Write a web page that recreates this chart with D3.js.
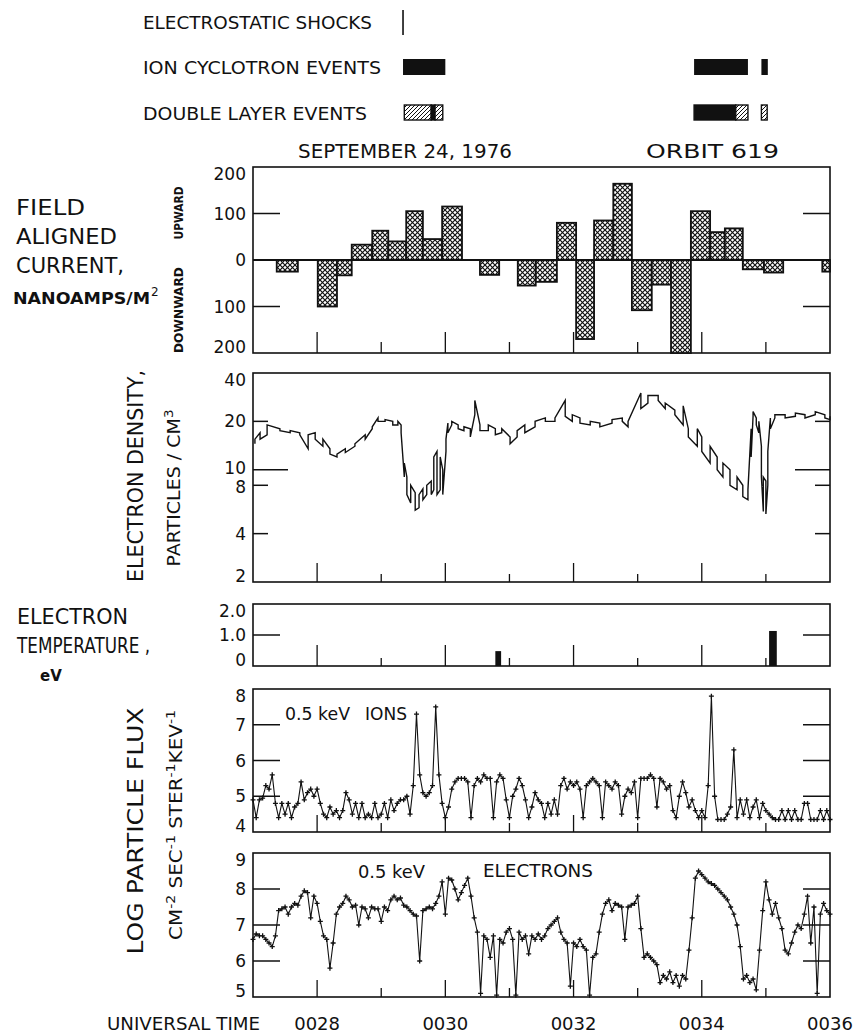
<!DOCTYPE html>
<html>
<head>
<meta charset="utf-8">
<script src="https://cdn.jsdelivr.net/npm/d3@7"></script>
<style>
  body { margin: 0; background: #fff; }
  text { font-family: "DejaVu Sans", sans-serif; fill: #111; }
</style>
</head>
<body>
<script>
////////////////////////////////////////////////////////////////
// Data (time in minutes after 0000 UT)

const minuteTicks = [28, 29, 30, 31, 32, 33, 34, 35]
const timeLabelAt = [28, 30, 32, 34, 36]
const timeLabels = ["0028", "0030", "0032", "0034", "0036"]

// event bars on top
const shockTimes = [29.34]
const iceStart = [29.34, 33.88, 34.93]
const iceEnd = [30.00, 34.72, 35.03]
const dlStart = [29.36, 29.78, 29.84, 33.88, 34.53, 34.93]
const dlEnd = [29.78, 29.84, 29.96, 34.53, 34.72, 35.02]
const dlSolid = [false, true, false, true, false, false]

// field aligned current, bins between edges (nA/m^2, + upward)
const facEdges = [27.37, 27.70, 28.01, 28.31, 28.54, 28.86, 29.11, 29.39, 29.65, 29.95,
  30.26, 30.54, 30.84, 31.13, 31.41, 31.74, 32.04, 32.32, 32.62, 32.91,
  33.22, 33.52, 33.83, 34.13, 34.36, 34.64, 34.97, 35.27, 35.88, 36.00]
const facValues = [-25, 0, -100, -33, 33, 63, 40, 105, 45, 115,
  0, -32, 0, -55, -47, 80, -170, 85, 164, -108,
  -53, -200, 105, 60, 68, -20, -27, 0, -25]
const facTicks = [200, 100, 0, -100, -200]

// electron density samples: time, low, high (per cm^3)
const densT = [27.03, 27.11, 27.22, 27.42, 27.58, 27.73, 27.86, 27.97, 28.09, 28.20,
  28.31, 28.44, 28.59, 28.75, 28.86, 28.95, 29.06, 29.18, 29.26, 29.31,
  29.36, 29.40, 29.46, 29.53, 29.59, 29.65, 29.71, 29.78, 29.82, 29.87,
  29.92, 29.96, 30.01, 30.04, 30.10, 30.20, 30.29, 30.39, 30.46, 30.54,
  30.67, 30.78, 30.88, 31.01, 31.12, 31.24, 31.40, 31.56, 31.71, 31.87,
  31.98, 32.10, 32.26, 32.41, 32.60, 32.76, 32.85, 33.05, 33.16, 33.32,
  33.43, 33.58, 33.71, 33.79, 33.93, 34.00, 34.13, 34.24, 34.33, 34.44,
  34.55, 34.64, 34.72, 34.77, 34.80, 34.85, 34.89, 34.93, 34.96, 35.00,
  35.03, 35.07, 35.14, 35.30, 35.46, 35.61, 35.77, 35.92, 36.00]
const densLo = [14.5, 15.5, 16.5, 17.5, 17, 16.5, 13.5, 15.5, 14, 12.5,
  12, 12.8, 14, 15.5, 18, 20, 20, 19, 19, 17,
  9, 7, 6.2, 5.6, 5.8, 6.5, 7, 7, 7.5, 7,
  7.5, 7, 13, 17, 19, 18, 17.5, 16, 22, 17.5,
  17.5, 16.5, 17, 14.5, 16, 17, 18.5, 20, 20, 21.5,
  20, 19.5, 19, 18.5, 19.5, 20, 18.5, 24, 26, 27,
  24, 22, 19, 16, 14, 13, 11, 10, 9, 8,
  7.5, 6.8, 6.5, 12, 21.5, 19, 17, 9, 5.5, 5.3,
  8, 18, 21, 21, 21.5, 21, 22, 21, 20.5]
const densHi = [15.5, 17, 19, 18, 17.5, 17, 16.5, 17, 15.5, 13.5,
  12.5, 13.5, 14.5, 16.5, 18.5, 21, 20.5, 20, 20, 19,
  11, 9, 8, 7.2, 7, 7.6, 8, 8.5, 12, 13,
  12, 10, 15.5, 19.5, 20, 19, 18.5, 18, 27, 19,
  19, 18, 18, 16, 17.5, 19, 20, 21, 21, 27,
  22, 21, 20, 19.5, 20.5, 21, 20, 30, 29, 29,
  26, 23.5, 25, 18, 18, 16, 14, 12, 11, 10,
  9, 8, 7.5, 18, 23, 21, 20, 14, 9, 8.5,
  13, 21, 22, 22, 22.5, 22, 23, 22, 21.5]
const densTicks = [40, 20, 10, 8, 4, 2]

// electron temperature bars (eV)
const tempStart = [30.78, 35.05]
const tempEnd = [30.87, 35.17]
const tempValue = [0.48, 1.13]
const tempTicks = [2, 1, 0]
const tempTickLabels = ["2.0", "1.0", "0"]

// log particle flux, one sample every 0.05 min from 0027
const fluxStart = 27.0
const fluxStep = 0.05
const ionFlux = [
  4.9, 4.4, 4.9, 4.95, 5.3, 5.2, 5.6, 4.8, 4.4, 4.8, 4.5, 4.8, 4.4, 4.7, 4.8, 5.4, 4.9, 5.1, 5.2, 5.0,
  5.2, 4.8, 4.5, 4.4, 4.7, 4.5, 4.6, 4.4, 4.6, 5.1, 4.9, 4.5, 4.8, 4.4, 4.8, 4.4, 4.5, 4.4, 4.8, 4.4,
  4.5, 4.8, 4.4, 4.9, 4.6, 4.8, 4.9, 4.9, 5.0, 4.5, 5.3, 7.3, 5.6, 5.1, 5.0, 5.1, 5.3, 7.5, 5.6, 4.8,
  4.4, 4.7, 5.2, 5.4, 5.5, 5.5, 5.5, 5.4, 4.4, 5.3, 5.5, 5.4, 5.6, 5.5, 5.5, 4.4, 5.4, 5.6, 5.5, 4.9,
  4.4, 5.0, 5.2, 5.5, 5.3, 4.9, 4.4, 4.7, 5.1, 4.9, 4.8, 4.4, 4.8, 4.5, 4.9, 4.5, 5.3, 5.5, 5.2, 5.4,
  5.3, 5.4, 5.2, 4.4, 5.3, 5.4, 5.5, 5.4, 5.3, 4.4, 5.4, 5.3, 5.2, 5.4, 5.3, 4.5, 5.0, 5.2, 5.1, 5.4,
  4.4, 5.5, 5.5, 5.5, 5.6, 5.5, 4.7, 5.5, 5.4, 5.2, 5.3, 4.6, 4.4, 5.0, 5.4, 5.1, 4.7, 4.9, 4.6, 4.4,
  4.6, 4.4, 5.3, 7.8, 5.0, 4.35, 4.35, 4.35, 4.5, 4.7, 6.3, 4.4, 4.9, 4.5, 4.9, 4.4, 4.7, 4.9, 4.4, 4.8,
  4.6, 4.5, 4.4, 4.35, 4.35, 4.6, 4.35, 4.6, 4.35, 4.6, 4.35, 4.35, 4.8, 4.8, 4.35, 4.35, 4.35, 4.6, 4.35, 4.6,
  4.35]
const electronFlux = [
  6.6, 6.75, 6.7, 6.7, 6.6, 6.5, 6.4, 6.7, 7.4, 7.45, 7.5, 7.3, 7.5, 7.6, 7.55, 7.8, 7.95, 7.9, 7.2, 7.8,
  7.6, 7.1, 6.7, 6.6, 5.8, 6.5, 7.3, 7.5, 7.6, 7.8, 7.7, 7.5, 7.55, 7.0, 7.5, 7.45, 7.2, 7.5, 7.45, 7.45,
  7.1, 7.5, 7.4, 7.7, 7.8, 7.7, 7.75, 7.55, 7.5, 7.4, 7.3, 7.25, 6.0, 7.4, 7.45, 7.5, 7.45, 7.6, 7.8, 8.2,
  7.3, 8.3, 8.25, 8.0, 7.7, 7.9, 8.1, 8.3, 7.8, 7.2, 6.8, 5.1, 6.7, 6.6, 6.1, 6.7, 5.05, 6.6, 6.5, 6.8,
  6.9, 6.6, 5.05, 6.8, 6.6, 6.7, 6.2, 6.7, 6.6, 6.75, 6.6, 6.7, 6.9, 7.0, 7.1, 7.2, 6.8, 6.6, 6.5, 5.3,
  6.5, 6.4, 6.6, 6.4, 6.3, 5.05, 6.1, 6.2, 6.8, 7.3, 7.6, 7.7, 7.4, 7.6, 7.55, 7.5, 6.6, 7.5, 7.55, 7.6,
  7.8, 6.9, 6.1, 6.2, 6.1, 6.0, 5.9, 5.4, 5.6, 5.5, 5.7, 5.4, 5.6, 5.3, 5.6, 5.5, 6.3, 7.2, 8.3, 8.5,
  8.4, 8.3, 8.2, 8.15, 8.1, 8.0, 7.9, 7.8, 7.7, 7.5, 7.3, 7.0, 6.4, 5.5, 5.6, 5.4, 5.5, 5.2, 6.3, 7.4,
  8.2, 7.7, 7.3, 7.6, 7.2, 6.9, 6.3, 6.2, 6.5, 6.8, 7.0, 6.9, 7.3, 7.8, 6.5, 7.5, 5.1, 7.3, 7.6, 7.4,
  7.3]
const ionTicks = [8, 7, 6, 5, 4]
const electronTicks = [9, 8, 7, 6, 5]


////////////////////////////////////////////////////////////////
// Setup

const X0 = 253, X1 = 830
const ink = "#111"

let svg = d3.select("body").append("svg")
  .attr("width", 858)
  .attr("height", 1036)

let x = d3.scaleLinear().domain([27, 36]).range([X0, X1])

let yFac = d3.scaleLinear().domain([-200, 200]).range([353, 167])
let yDens = d3.scaleLog().domain([2, 40]).range([582, 373])
let yTemp = d3.scaleLinear().domain([0, 2]).range([666, 604])
let yIon = d3.scaleLinear().domain([4, 8]).range([832, 689])
let yEl = d3.scaleLinear().domain([5, 9]).range([997, 853])

// hatch patterns
let defs = svg.append("defs")
let xh = defs.append("pattern")
  .attr("id", "xhatch")
  .attr("patternUnits", "userSpaceOnUse")
  .attr("width", 5).attr("height", 5)
xh.append("rect").attr("width", 5).attr("height", 5).attr("fill", "#fff")
xh.append("path")
  .attr("d", "M0,0L5,5M5,0L0,5")
  .attr("stroke", ink).attr("stroke-width", 1.2)

let sh = defs.append("pattern")
  .attr("id", "shatch")
  .attr("patternUnits", "userSpaceOnUse")
  .attr("width", 4).attr("height", 4)
sh.append("rect").attr("width", 4).attr("height", 4).attr("fill", "#fff")
sh.append("path")
  .attr("d", "M0,4L4,0M-1,1L1,-1M3,5L5,3")
  .attr("stroke", ink).attr("stroke-width", 1)


////////////////////////////////////////////////////////////////
// Helpers

function label(px, py, str, size, opts) {
  opts = opts || {}
  let t = svg.append("text")
    .attr("x", px)
    .attr("y", py)
    .attr("font-size", size)
    .attr("text-anchor", opts.anchor || "start")
    .text(str)
  if (opts.len) t.attr("textLength", opts.len).attr("lengthAdjust", "spacingAndGlyphs")
  if (opts.weight) t.attr("font-weight", opts.weight)
  return t
}

// rotated (bottom to top) label, baseline at bx, centered on cy
function vlabel(bx, cy, size, len) {
  return svg.append("text")
    .attr("transform", `translate(${bx},${cy}) rotate(-90)`)
    .attr("text-anchor", "middle")
    .attr("font-size", size)
    .attr("textLength", len)
    .attr("lengthAdjust", "spacingAndGlyphs")
}

// frame + inner ticks for one panel
function frame(y, yTickVals, yTickLen, longX, shortX) {
  let [bot, top] = y.range()
  let g = svg.append("g")
    .attr("stroke", ink)
    .attr("fill", "none")

  g.selectAll(".xt").data(minuteTicks).enter().append("line")
    .attr("x1", d => x(d)).attr("x2", d => x(d))
    .attr("y1", bot)
    .attr("y2", d => bot - (d % 2 == 0 ? longX : shortX))
    .attr("stroke-width", 1.3)

  g.selectAll(".yl").data(yTickVals).enter().append("line")
    .attr("x1", X0).attr("x2", d => X0 + yTickLen(d))
    .attr("y1", d => y(d)).attr("y2", d => y(d))
    .attr("stroke-width", 1.5)
  g.selectAll(".yr").data(yTickVals).enter().append("line")
    .attr("x1", X1).attr("x2", d => X1 - yTickLen(d))
    .attr("y1", d => y(d)).attr("y2", d => y(d))
    .attr("stroke-width", 1.5)

  g.append("rect")
    .attr("x", X0).attr("y", top)
    .attr("width", X1 - X0).attr("height", bot - top)
    .attr("stroke-width", 1.6)
}

// tick labels left of a panel
function tickLabels(y, vals, texts, nudge) {
  let [bot, top] = y.range()
  svg.selectAll(null).data(vals).enter().append("text")
    .attr("x", 246)
    .attr("y", (d, i) => Math.max(top + 7, Math.min(bot - 6, y(d))) + (nudge ? nudge[i] : 0))
    .attr("dy", "0.36em")
    .attr("text-anchor", "end")
    .attr("font-size", 17)
    .text((d, i) => texts ? texts[i] : d)
}


////////////////////////////////////////////////////////////////
// Event legend and title

label(143, 29, "ELECTROSTATIC SHOCKS", 17, {len: 229})
label(143, 74, "ION CYCLOTRON EVENTS", 17, {len: 238})
label(143, 120, "DOUBLE LAYER EVENTS", 17, {len: 224})

svg.selectAll(".shock").data(shockTimes).enter().append("line")
  .attr("x1", d => x(d)).attr("x2", d => x(d))
  .attr("y1", 10).attr("y2", 35)
  .attr("stroke", ink).attr("stroke-width", 1.6)

svg.selectAll(".ice").data(iceStart).enter().append("rect")
  .attr("x", d => x(d))
  .attr("width", (d, i) => x(iceEnd[i]) - x(d))
  .attr("y", 59).attr("height", 16)
  .attr("fill", ink)

svg.selectAll(".dl").data(dlStart).enter().append("rect")
  .attr("x", d => x(d))
  .attr("width", (d, i) => x(dlEnd[i]) - x(d))
  .attr("y", 105).attr("height", 15)
  .attr("fill", (d, i) => dlSolid[i] ? ink : "url(#shatch)")
  .attr("stroke", ink).attr("stroke-width", 1.4)

label(298, 158, "SEPTEMBER 24, 1976", 20, {len: 214})
label(646, 158, "ORBIT 619", 20, {len: 133})


////////////////////////////////////////////////////////////////
// Field aligned current

label(16, 215, "FIELD", 21, {len: 69})
label(16, 244, "ALIGNED", 21, {len: 101})
label(16, 273, "CURRENT,", 21, {len: 108})
label(13, 304, "NANOAMPS/M", 15, {len: 137, weight: "bold"})
svg.append("text").attr("x", 151).attr("y", 296).attr("font-size", 12).text("2")

vlabel(183, 213, 12.5, 53).attr("font-weight", "bold").text("UPWARD")
vlabel(183, 310, 12.5, 86).attr("font-weight", "bold").text("DOWNWARD")

frame(yFac, [100, -100], d => 27, 21, 11)

let facBins = facValues
  .map((v, i) => ({v: v, t0: facEdges[i], t1: facEdges[i + 1]}))
  .filter(d => d.v != 0)

svg.selectAll(".fac").data(facBins).enter().append("rect")
  .attr("x", d => x(d.t0))
  .attr("width", d => x(d.t1) - x(d.t0))
  .attr("y", d => yFac(Math.max(0, d.v)))
  .attr("height", d => Math.abs(yFac(d.v) - yFac(0)))
  .attr("fill", "url(#xhatch)")
  .attr("stroke", ink)
  .attr("stroke-width", 1.8)

svg.append("line")
  .attr("x1", X0).attr("x2", X1)
  .attr("y1", yFac(0)).attr("y2", yFac(0))
  .attr("stroke", ink).attr("stroke-width", 2)

tickLabels(yFac, facTicks, facTicks.map(d => Math.abs(d)))


////////////////////////////////////////////////////////////////
// Electron density

vlabel(143, 476, 22, 212).text("ELECTRON DENSITY,")
let pc = vlabel(180, 488, 17, 157)
pc.append("tspan").text("PARTICLES / CM")
pc.append("tspan").attr("dy", -7).attr("font-size", 12).text("3")

frame(yDens, [20, 10, 8, 4], d => d == 10 ? 35 : 15, 19, 8)

// zigzag between low and high of each sample
let densPts = []
densT.forEach((t, i) => {
  if (i % 2 == 0) densPts.push([t, densLo[i]], [t, densHi[i]])
  else densPts.push([t, densHi[i]], [t, densLo[i]])
})
svg.append("path")
  .attr("d", d3.line().x(d => x(d[0])).y(d => yDens(d[1]))(densPts))
  .attr("fill", "none")
  .attr("stroke", ink)
  .attr("stroke-width", 1.4)

tickLabels(yDens, densTicks, null, [0, 0, -2, 2, 0, 0])


////////////////////////////////////////////////////////////////
// Electron temperature

label(17, 624, "ELECTRON", 21, {len: 111})
label(17, 653, "TEMPERATURE ,", 21, {len: 133})
label(40, 681, "eV", 15, {weight: "bold"})

frame(yTemp, [1], d => 27, 21, 8)

svg.selectAll(".temp").data(tempValue).enter().append("rect")
  .attr("x", (d, i) => x(tempStart[i]))
  .attr("width", (d, i) => x(tempEnd[i]) - x(tempStart[i]))
  .attr("y", d => yTemp(d))
  .attr("height", d => yTemp(0) - yTemp(d))
  .attr("fill", ink)

tickLabels(yTemp, tempTicks, tempTickLabels)


////////////////////////////////////////////////////////////////
// Particle flux

vlabel(143, 831, 22, 247).text("LOG  PARTICLE  FLUX")
let un = vlabel(182, 825, 17, 230)
un.append("tspan").text("CM")
un.append("tspan").attr("dy", -7).attr("font-size", 12).text("-2")
un.append("tspan").attr("dy", 7).text(" SEC")
un.append("tspan").attr("dy", -7).attr("font-size", 12).text("-1")
un.append("tspan").attr("dy", 7).text(" STER")
un.append("tspan").attr("dy", -7).attr("font-size", 12).text("-1")
un.append("tspan").attr("dy", 7).text("KEV")
un.append("tspan").attr("dy", -7).attr("font-size", 12).text("-1")

function fluxPanel(y, vals, ticks) {
  let [lo, hi] = y.domain()
  frame(y, [5, 6, 7, 8].filter(v => v > lo && v < hi), d => 27, 17, 9)
  let pts = vals.map((v, i) => [fluxStart + i * fluxStep, v])
  svg.append("path")
    .attr("d", d3.line().x(d => x(d[0])).y(d => y(d[1]))(pts))
    .attr("fill", "none")
    .attr("stroke", ink)
    .attr("stroke-width", 1.1)
  svg.append("path")
    .attr("d", pts.map(d => `M${x(d[0]) - 2.5},${y(d[1])}h5M${x(d[0])},${y(d[1]) - 2.5}v5`).join(""))
    .attr("stroke", ink)
    .attr("stroke-width", 1.3)
  tickLabels(y, ticks)
}

fluxPanel(yIon, ionFlux, ionTicks)
fluxPanel(yEl, electronFlux, electronTicks)

label(285, 720, "0.5 keV", 18, {len: 65})
label(365, 720, "IONS", 18, {len: 42})
label(358, 878, "0.5 keV", 18, {len: 67})
label(483, 877, "ELECTRONS", 18, {len: 110})


////////////////////////////////////////////////////////////////
// Time axis

label(107, 1030, "UNIVERSAL TIME", 18, {len: 153})
svg.selectAll(".tl").data(timeLabelAt).enter().append("text")
  .attr("x", d => x(d))
  .attr("y", 1030)
  .attr("text-anchor", "middle")
  .attr("font-size", 18)
  .text((d, i) => timeLabels[i])
</script>
</body>
</html>
